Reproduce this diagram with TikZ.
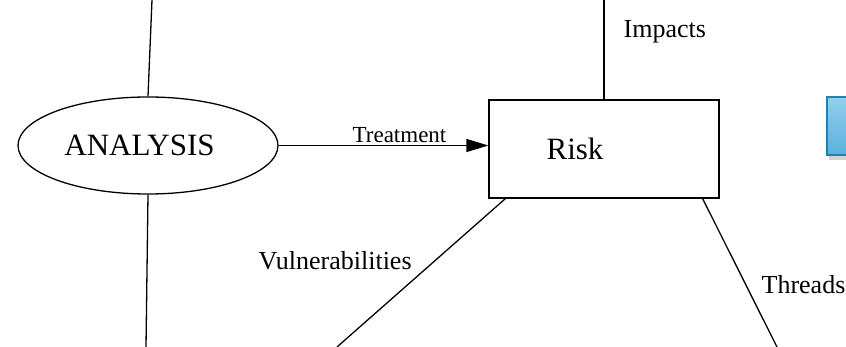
\documentclass[tikz,border=0pt]{standalone}
\usepackage{fontspec}
\setmainfont{Liberation Serif}
\usetikzlibrary{shapes.geometric,arrows.meta,shadows}
\definecolor{boxblue}{HTML}{5AB0DC}
\definecolor{boxlight}{HTML}{93CFEE}
\definecolor{boxedge}{HTML}{1C84AE}
\begin{document}
\begin{tikzpicture} [x=1pt, y=-1pt, line width=1.3pt,
	big/.style = {font=\fontsize{31}{36}\selectfont},
	small/.style = {font=\fontsize{26}{30}\selectfont, inner sep=0pt, anchor=base west}]
	\useasboundingbox (0,0) rectangle (846,347);
	\node [draw, ellipse, big, minimum width=260, minimum height=97, inner sep=0pt] (analysis) at (148,145.5) {ANALYSIS\kern17pt\relax};
	\node [draw, rectangle, big, minimum width=230, minimum height=98, inner sep=0pt] (risk) at (604,149) {Risk\kern58pt\relax};
	\node [draw=boxedge, line width=1.6pt, top color=boxlight, bottom color=boxblue, minimum width=40, minimum height=58, drop shadow={shadow xshift=2pt, shadow yshift=-5pt, opacity=0.35}] (side) at (847,126) {};
	% free ends of the lines
	\coordinate (atop) at (152,0);
	\coordinate (abot) at (146,347);
	\coordinate (rtop) at (604,0);
	\coordinate (vend) at (337,347);
	\coordinate (tend) at (777,347);
	\draw (analysis.north) -- (atop);
	\draw (analysis.south) -- (abot);
	\draw [-{Triangle[length=22pt, width=13pt]}] (analysis.east) -- (analysis.east -| risk.west);
	\draw (risk.north) -- (rtop);
	\draw ([xshift=17pt]risk.south west) -- (vend);
	\draw ([xshift=-17pt]risk.south east) -- (tend);
	\node [small, font=\fontsize{23}{27}\selectfont] (treat) at (352,143) {Treatment};
	\node [small] (imp) at (623,38) {Impacts};
	\node [small] (vul) at (258,270) {Vulnerabilities};
	\node [small] (thr) at (761,294) {Threads};
\end{tikzpicture}
\end{document}
